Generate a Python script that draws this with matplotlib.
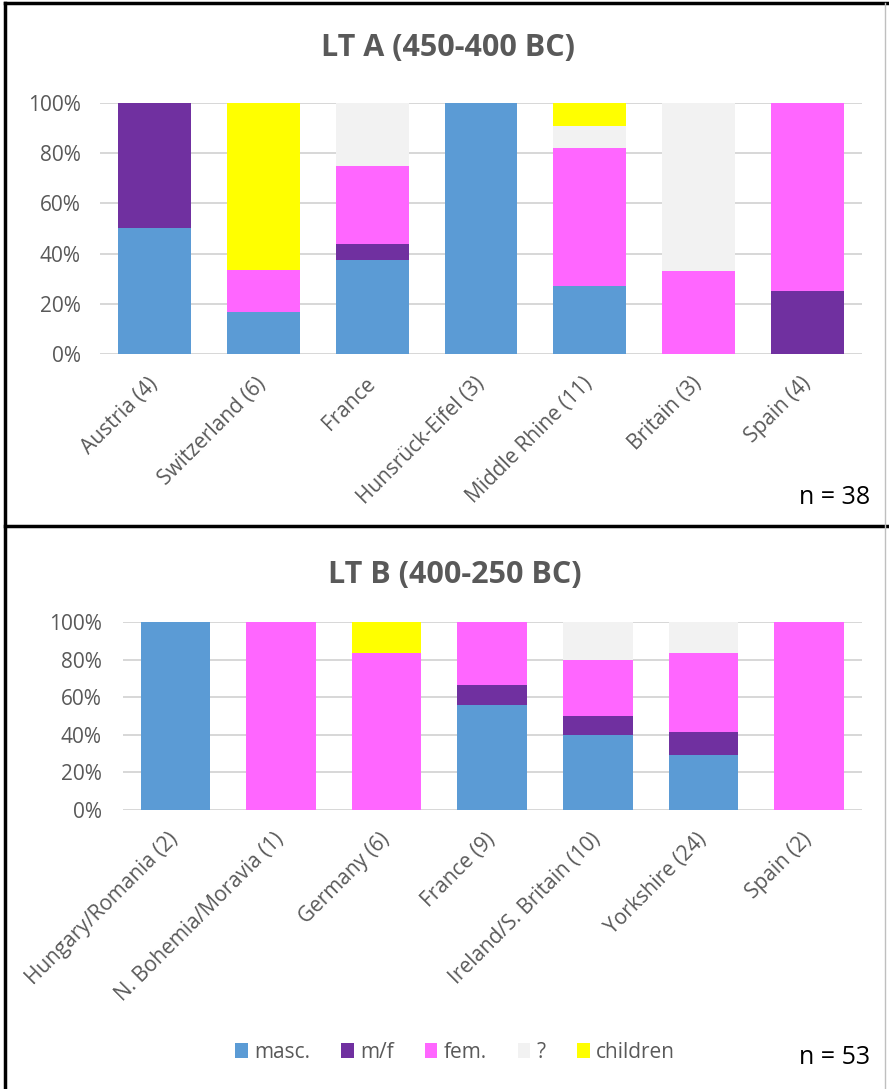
import matplotlib
matplotlib.use("Agg")
import matplotlib.pyplot as plt
from matplotlib.lines import Line2D
from matplotlib.ticker import FuncFormatter
import numpy as np

plt.rcParams['font.family'] = ['Open Sans', 'DejaVu Sans']

series_names = ['masc.', 'm/f', 'fem.', '?', 'children']
series_colors = ['#5B9BD5', '#7030A0', '#FF66FF', '#F2F2F2', '#FFFF00']

# LT A (450-400 BC), percent
top_title = 'LT A (450-400 BC)'
top_cats = ['Austria (4)', 'Switzerland (6)', 'France', 'Hunsrück-Eifel (3)',
            'Middle Rhine (11)', 'Britain (3)', 'Spain (4)']
top_masc = [50, 16.7, 37.5, 100, 27.3, 0, 0]
top_mf = [50, 0, 6.25, 0, 0, 0, 25]
top_fem = [0, 16.7, 31.25, 0, 54.5, 33.3, 75]
top_unk = [0, 0, 25, 0, 9.1, 66.7, 0]
top_child = [0, 66.6, 0, 0, 9.1, 0, 0]
top_n = 'n = 38'

# LT B (400-250 BC), percent
bot_title = 'LT B (400-250 BC)'
bot_cats = ['Hungary/Romania (2)', 'N. Bohemia/Moravia (1)', 'Germany (6)', 'France (9)',
            'Ireland/S. Britain (10)', 'Yorkshire (24)', 'Spain (2)']
bot_masc = [100, 0, 0, 55.6, 40, 29.2, 0]
bot_mf = [0, 0, 0, 11.1, 10, 12.5, 0]
bot_fem = [0, 100, 83.3, 33.3, 30, 41.7, 100]
bot_unk = [0, 0, 0, 0, 20, 16.6, 0]
bot_child = [0, 0, 16.7, 0, 0, 0, 0]
bot_n = 'n = 53'

yticks = [0, 20, 40, 60, 80, 100]

W, H = 889, 1089
fig = plt.figure(figsize=(W / 100, H / 100), dpi=100)

GRAY = '#595959'
GRID = '#D4D4D4'


def draw(ax, cats, series, width, ypad, xpad):
    x = np.arange(len(cats))
    bottom = np.zeros(len(cats))
    handles = []
    for vals, name, col in zip(series, series_names, series_colors):
        v = np.array(vals, dtype=float)
        b = ax.bar(x, v, width, bottom=bottom, color=col, label=name, zorder=3)
        handles.append(b)
        bottom += v
    ax.set_xlim(-0.5, len(cats) - 0.5)
    ax.set_ylim(0, 100)
    ax.set_yticks(yticks)
    ax.yaxis.set_major_formatter(FuncFormatter(lambda v, p: f'{int(v)}%'))
    ax.grid(axis='y', color=GRID, lw=1.3, zorder=0)
    ax.set_axisbelow(True)
    for s in ax.spines.values():
        s.set_visible(False)
    ax.tick_params(axis='both', length=0, colors=GRAY, labelsize=15)
    ax.tick_params(axis='y', pad=ypad)
    ax.set_xticks(x)
    ax.set_xticklabels(cats, rotation=45, ha='right', va='center',
                       rotation_mode='anchor', color=GRAY, fontsize=15)
    ax.tick_params(axis='x', pad=xpad)
    return handles


ax1 = fig.add_axes([100 / W, 1 - 354.3 / H, 762 / W, 251.6 / H])
draw(ax1, top_cats, [top_masc, top_mf, top_fem, top_unk, top_child], 0.67, 14, 19)

ax2 = fig.add_axes([122.7 / W, 1 - 810 / H, 739 / W, 188 / H])
handles = draw(ax2, bot_cats, [bot_masc, bot_mf, bot_fem, bot_unk, bot_child], 0.66, 15, 19)

fig.text(448 / W, 1 - 48 / H, top_title, ha='center', va='center',
         fontsize=22, fontweight='bold', color=GRAY)
fig.text(455 / W, 1 - 575 / H, bot_title, ha='center', va='center',
         fontsize=22, fontweight='bold', color=GRAY)

fig.text(870 / W, 1 - 498 / H, top_n, ha='right', va='center', fontsize=18, color='black')
fig.text(870 / W, 1 - 1058 / H, bot_n, ha='right', va='center', fontsize=18, color='black')

leg = fig.legend(handles=handles, labels=series_names, loc='center',
                 bbox_to_anchor=(455 / W, 1 - 1052 / H), ncol=5, frameon=False,
                 handlelength=0.6, handleheight=0.7, handletextpad=0.3,
                 columnspacing=1.5, fontsize=15)
for t in leg.get_texts():
    t.set_color(GRAY)

# panel borders
def fl(xs, ys, **kw):
    fig.add_artist(Line2D([x / W for x in xs], [1 - y / H for y in ys], **kw))

fl([5, 5], [3, H], color='black', lw=2.5)
fl([5, W], [3, 3], color='black', lw=2.5)
fl([5, W], [526, 526], color='black', lw=2.5)
fl([885, 885], [3, H], color='#BFBFBF', lw=1)

fig.savefig('out.png', dpi=100, facecolor='white')
